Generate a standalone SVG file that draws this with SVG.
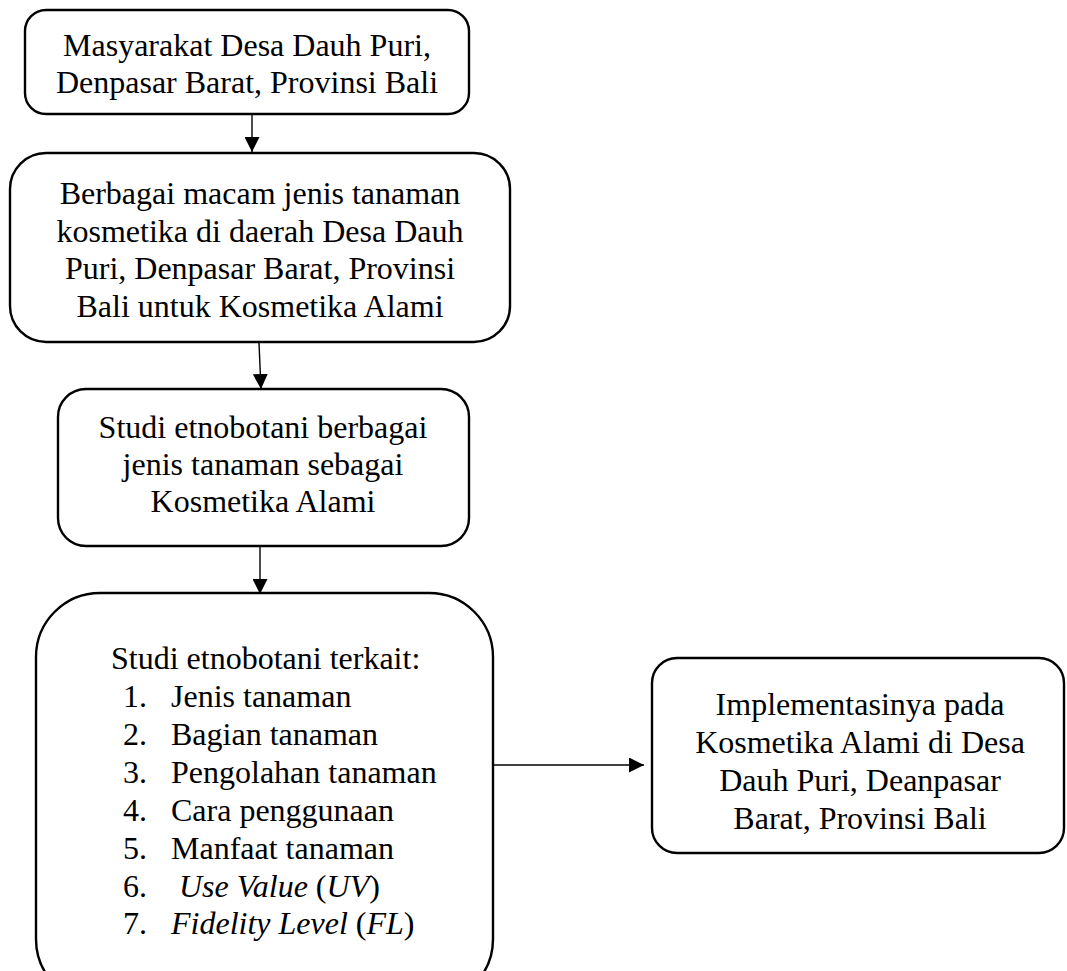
<svg xmlns="http://www.w3.org/2000/svg" width="1067" height="971" viewBox="0 0 1067 971">
<style>
.box{fill:#fff;stroke:#000;stroke-width:2.4}
.t{font-family:'Liberation Serif','Times New Roman',Tinos,'DejaVu Serif',serif;font-size:32px;fill:#000}
.c{text-anchor:middle}
.i{font-style:italic}
.ln{stroke:#000;stroke-width:1.4;fill:none}
</style>
<defs>
<marker id="ah" markerWidth="15" markerHeight="15" viewBox="0 0 15 15" refX="15" refY="7.5" orient="auto" markerUnits="userSpaceOnUse">
<path d="M0,0 L15,7.5 L0,15 Z" fill="#000"/>
</marker>
</defs>
<rect width="1067" height="971" fill="#fff"/>
<g id="connectors">
<line class="ln" x1="252" y1="114" x2="252" y2="152" marker-end="url(#ah)"/>
<line class="ln" x1="259" y1="343" x2="261" y2="389" marker-end="url(#ah)"/>
<line class="ln" x1="260" y1="546" x2="260" y2="594" marker-end="url(#ah)"/>
<line class="ln" x1="494" y1="765" x2="644" y2="765" marker-end="url(#ah)"/>
</g>
<g id="node1">
<rect class="box" x="25" y="10" width="444" height="104" rx="21"/>
<text class="t c" x="247" y="56" font-family="Liberation Serif, serif">Masyarakat Desa Dauh Puri,</text>
<text class="t c" x="247" y="93">Denpasar Barat, Provinsi Bali</text>
</g>
<g id="node2">
<rect class="box" x="10" y="153" width="500" height="189" rx="36"/>
<text class="t c" x="260" y="204">Berbagai macam jenis tanaman</text>
<text class="t c" x="260" y="242">kosmetika di daerah Desa Dauh</text>
<text class="t c" x="260" y="279">Puri, Denpasar Barat, Provinsi</text>
<text class="t c" x="260" y="317">Bali untuk Kosmetika Alami</text>
</g>
<g id="node3">
<rect class="box" x="58" y="389" width="411" height="157" rx="28"/>
<text class="t c" x="263" y="438">Studi etnobotani berbagai</text>
<text class="t c" x="263" y="475">jenis tanaman sebagai</text>
<text class="t c" x="263" y="512">Kosmetika Alami</text>
</g>
<g id="node4">
<rect class="box" x="36" y="593" width="457" height="410" rx="64"/>
<text class="t" x="111" y="669">Studi etnobotani terkait:</text>
<text class="t" x="123" y="707">1.</text><text class="t" x="171" y="707">Jenis tanaman</text>
<text class="t" x="123" y="745">2.</text><text class="t" x="171" y="745">Bagian tanaman</text>
<text class="t" x="123" y="783">3.</text><text class="t" x="171" y="783">Pengolahan tanaman</text>
<text class="t" x="123" y="821">4.</text><text class="t" x="171" y="821">Cara penggunaan</text>
<text class="t" x="123" y="859">5.</text><text class="t" x="171" y="859">Manfaat tanaman</text>
<text class="t" x="123" y="897">6.</text><text class="t" x="179" y="897"><tspan class="i">Use Value</tspan> (<tspan class="i">UV</tspan>)</text>
<text class="t" x="123" y="934">7.</text><text class="t" x="171" y="934"><tspan class="i">Fidelity Level</tspan> (<tspan class="i">FL</tspan>)</text>
</g>
<g id="node5">
<rect class="box" x="652" y="658" width="412" height="195" rx="25"/>
<text class="t c" x="860" y="715">Implementasinya pada</text>
<text class="t c" x="860" y="753">Kosmetika Alami di Desa</text>
<text class="t c" x="860" y="791">Dauh Puri, Deanpasar</text>
<text class="t c" x="860" y="829">Barat, Provinsi Bali</text>
</g>
</svg>
